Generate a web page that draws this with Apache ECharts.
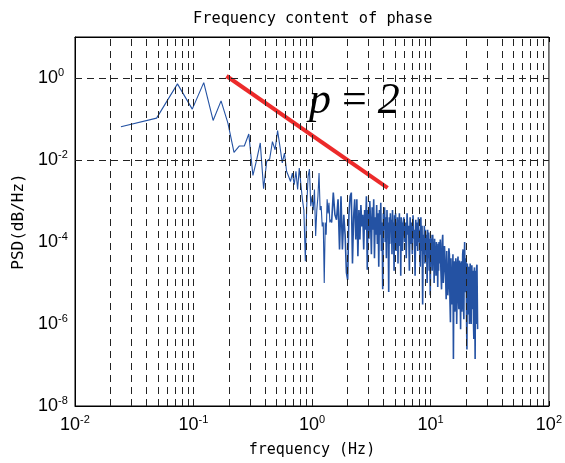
<!DOCTYPE html>
<html><head><meta charset="utf-8">
<script src="https://cdn.jsdelivr.net/npm/echarts@6/dist/echarts.min.js"></script>
<style>html,body{margin:0;padding:0;background:#fff}#c{width:565px;height:463px}</style>
</head><body><div id="c"></div>
<script>
const titleText = 'Frequency content of phase';
const xName = 'frequency (Hz)';
const yName = 'PSD(dB/Hz)';

// PSD samples: frequency bin width, then segments of (first bin, bin step, values)
const df = 25 / 1024;
const binStartA = 1, binStepA = 1;
const psdA = [0.065, 0.105, 0.72, 0.174, 0.77, 0.092, 0.277, 0.079, 0.0153, 0.022,
  0.022, 0.043, 0.0042, 0.0102, 0.026, 0.002, 0.0093, 0.0106, 0.028, 0.0178,
  0.052, 0.021, 0.0085, 0.0148, 0.0053, 0.004, 0.003, 0.0048, 0.0025, 0.0053,
  0.0019, 0.0064, 0.0068, 0.0011, 6e-4, 3.4e-5, 7.5e-4, 0.004, 0.006, 7.5e-4,
  0.0013, 6e-4, 0.0019, 1.4e-4, 6e-4, 0.0013, 0.0048, 6e-4, 7.5e-4, 2.4e-4,
  3e-4, 1e-5, 3e-4, 1.5e-4, 0.0011, 5e-4, 9e-4, 3e-4, 3.5e-4, 3e-4];
const binStartB = 62, binStepB = 2;
const psdB = [0.0016, 4.6e-4, 3.5e-4, 0.0011, 6.6e-5, 0.0013, 6.6e-5, 4.6e-4, 1.5e-4, 1.8e-5,
  1.2e-5, 4.6e-4, 0.0013, 0.0016, 3e-5, 4e-4, 0.0011, 1.15e-4, 0.0011, 4.5e-5,
  6e-4, 1.15e-4, 8e-4, 2.4e-4, 4.6e-4, 6.6e-5, 6e-4, 2e-4, 0.0013, 2.1e-5];
const binStartC = 122, binStepC = 2;
const psdC = [6e-4, 1.2e-4, 1e-3, 3e-4, 5e-5, 7e-4, 2e-4, 1.1e-3, 4e-5, 4e-4,
  1.5e-4, 8e-4, 9e-5, 5e-4, 2.5e-5, 6e-4, 1.5e-4, 9e-4, 6e-5, 3e-4,
  7e-6, 5e-4, 2e-4, 7e-4, 1e-4, 4e-4, 4e-5, 6e-4, 1.5e-4, 3e-4,
  6e-6, 4e-4, 9e-5, 5e-4, 2e-4, 3.5e-4, 5e-5, 6e-4, 1.2e-4, 3e-4,
  2e-5, 4.5e-4, 1.5e-4, 5e-4, 6e-5, 3e-4, 1e-4, 4e-4, 3e-5, 3.5e-4,
  1.5e-4, 5e-4, 8e-5, 3e-4, 1.5e-5, 4e-4, 1.2e-4, 3e-4, 6e-5, 2.5e-4];
const binStartD = 244, binStepD = 4;
const psdD = [4e-4, 1e-4, 3e-4, 4e-5, 5e-4, 1.5e-4, 2.5e-4, 2e-5, 4e-4, 9e-5,
  3e-4, 5e-5, 4.5e-4, 1.2e-4, 2e-4, 1.5e-5, 3.5e-4, 8e-5, 3e-4, 6e-5,
  4e-4, 1e-4, 2e-4, 2.5e-5, 4e-4, 6e-5, 2.5e-4, 3e-6, 1.5e-4, 5e-5,
  2.5e-4, 3e-5, 2e-4, 8e-5, 1.5e-4, 1e-5, 2e-4, 4e-5, 1.7e-4, 2e-5,
  1.2e-4, 5e-6, 1.5e-4, 4e-5, 1.2e-4, 2e-5, 1.5e-4, 6e-5, 1e-4, 1e-5,
  1.2e-4, 3e-5, 8e-5, 1.5e-5, 1e-4, 4e-5, 7e-5, 8e-6, 9e-5, 2e-5,
  1e-4, 3e-5];
const binStartE = 496, binStepE = 6;
const psdE = [1.15e-4, 2e-5, 7e-6, 9e-5, 1.5e-4, 1e-5, 2.1e-5, 8e-5, 8.7e-5, 1.5e-5,
  4e-6, 6e-5, 6.6e-5, 5e-6, 9e-6, 7e-5, 5e-5, 4e-6, 1.1e-6, 4e-5,
  3.7e-5, 3e-6, 7e-6, 5e-5, 1.4e-7, 2e-5, 3.4e-5, 2e-6, 3e-6, 4e-5,
  2.8e-5, 1e-6, 5.3e-6, 3e-5, 4.4e-5, 4e-6, 2.3e-6, 3.5e-5, 2.8e-5, 5e-6,
  7.5e-7, 2.5e-5, 3.4e-5, 2e-6, 4e-6, 5e-5, 6.6e-5, 3e-6, 1.3e-6, 3e-5,
  1e-4, 6e-6, 7e-6, 4e-5, 2.8e-5, 1.5e-6, 2.4e-7, 3e-5, 2.1e-5, 3e-6,
  1.7e-6, 2.5e-5, 2.4e-5, 1e-6, 4e-6, 3e-5, 1.9e-5, 2e-6, 1e-6, 2.2e-5,
  2.7e-5, 5e-6, 2.3e-6, 2e-5, 1.6e-5, 1e-6, 4.3e-7, 1.8e-5, 2.4e-5, 3e-6,
  1.4e-7, 2e-5, 9e-6, 1e-6, 3e-6, 2.5e-5, 2.8e-5, 4e-6, 7.5e-7];

// reference slope line (p = 2)
const slopeX = [0.19, 4.35];
const slopeY = [1.12, 0.0021];

// axes
const xMin = 0.01, xMax = 100;
const yMin = 1e-8, yMax = 10;
const xGridMultipliers = [1, 2, 3, 4, 5, 6, 7, 8, 9];
const xGridDecades = [0.01, 0.1, 1, 10];
const yGridValues = [1, 1e-2, 1e-4, 1e-6];

function toPoints(segs) {
  const out = [];
  segs.forEach(([s, st, vals]) => vals.forEach((v, i) => out.push([(s + i * st) * df, v])));
  return out;
}
// same curve, drawn in two parts: sparse low-frequency part and the dense high-frequency band
const psdLow = toPoints([[binStartA, binStepA, psdA]]);
const psdHigh = [psdLow[psdLow.length - 1]].concat(
  toPoints([[binStartB, binStepB, psdB], [binStartC, binStepC, psdC], [binStartD, binStepD, psdD], [binStartE, binStepE, psdE]]));

const xGrid = [];
xGridDecades.forEach(d => xGridMultipliers.forEach(m => {
  const v = +(d * m).toPrecision(3);
  if (v > xMin && v < xMax) xGrid.push({ xAxis: v });
}));
const yGrid = yGridValues.map(v => ({ yAxis: v }));

const gridLine = { color: '#222', width: 1, type: [7, 5] };
const labelRich = {
  b: { fontFamily: 'Liberation Sans', fontSize: 18, lineHeight: 20, color: '#000' },
  s: { fontFamily: 'Liberation Sans', fontSize: 11, lineHeight: 11, color: '#000', padding: [0, 0, 10, 0] }
};
function powLabel(v) {
  const e = Math.round(Math.log10(v));
  return '{b|10}{s|' + e + '}';
}
const blue = '#2452a3';

const chart = echarts.init(document.getElementById('c'), null, { renderer: 'canvas' });
chart.setOption({
  animation: false,
  backgroundColor: '#fff',
  title: {
    text: titleText, left: 193, top: 12, padding: 0,
    textStyle: { fontFamily: 'DejaVu Sans Mono', fontSize: 15.3, fontWeight: 'normal', color: '#000' }
  },
  grid: { left: 75, right: 14, top: 37, bottom: 56, show: true, borderColor: '#000', borderWidth: 1, backgroundColor: 'transparent' },
  xAxis: [{
    type: 'log', logBase: 10, min: xMin, max: xMax,
    name: xName, nameLocation: 'middle', nameGap: 37,
    nameTextStyle: { fontFamily: 'DejaVu Sans Mono', fontSize: 15, color: '#000' },
    axisLine: { lineStyle: { color: '#000', width: 1 } },
    axisTick: { inside: true, length: 5, lineStyle: { color: '#000' } },
    splitLine: { show: false },
    axisLabel: { margin: 9, formatter: powLabel, rich: labelRich }
  }, {
    type: 'log', logBase: 10, min: xMin, max: xMax, position: 'top',
    axisLine: { lineStyle: { color: '#000', width: 1 } },
    axisTick: { inside: true, length: 5, lineStyle: { color: '#000' } },
    splitLine: { show: false },
    axisLabel: { show: false }
  }],
  yAxis: {
    type: 'log', logBase: 10, min: yMin, max: yMax,
    name: yName, nameLocation: 'middle', nameGap: 47,
    nameTextStyle: { fontFamily: 'DejaVu Sans Mono', fontSize: 16, color: '#000' },
    axisLine: { lineStyle: { color: '#000', width: 1 } },
    axisTick: { show: false },
    splitLine: { show: false },
    axisLabel: {
      margin: 37, align: 'left', rich: labelRich,
      formatter: v => {
        const e = Math.round(Math.log10(v));
        return (e % 2 === 0 && e <= 0) ? powLabel(v) : '';
      }
    }
  },
  graphic: [{
    type: 'text', left: 309, top: 79, z: 100,
    style: {
      text: '{i|p} = {i|2}', fill: '#000',
      font: '44px "Liberation Serif"',
      rich: { i: { fontFamily: 'Liberation Serif', fontStyle: 'italic', fontSize: 44 } }
    }
  }],
  series: [
    {
      type: 'line', z: 1, data: [], silent: true,
      markLine: {
        silent: true, symbol: 'none', animation: false,
        label: { show: false }, lineStyle: gridLine, emphasis: { disabled: true },
        data: xGrid.concat(yGrid)
      }
    },
    {
      name: 'PSD', type: 'line', z: 2, data: psdLow, showSymbol: false, symbol: 'none',
      lineStyle: { color: blue, width: 1.1 }, itemStyle: { color: blue }
    },
    {
      name: 'PSD', type: 'line', z: 2, data: psdHigh, showSymbol: false, symbol: 'none',
      lineStyle: { color: blue, width: 1.6 }, itemStyle: { color: blue }
    },
    {
      name: 'slope', type: 'line', z: 3, showSymbol: false, symbol: 'none',
      data: slopeX.map((x, i) => [x, slopeY[i]]),
      lineStyle: { color: '#ec2a2a', width: 4 }
    }
  ]
});
</script></body></html>
